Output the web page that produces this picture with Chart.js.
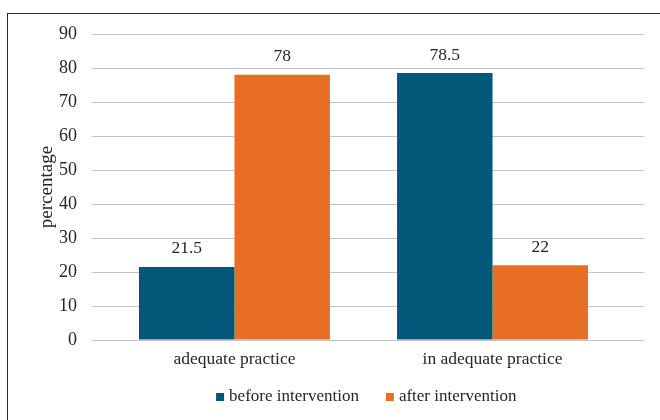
<!DOCTYPE html>
<html>
<head>
<meta charset="utf-8">
<script src="https://cdn.jsdelivr.net/npm/chart.js@4.4.1/dist/chart.umd.min.js"></script>
<style>
  html, body { margin: 0; padding: 0; background: #fff; }
  #wrap { position: relative; width: 660px; height: 420px; overflow: hidden; }
  #frame { position: absolute; left: 7px; top: 13px; width: 720px; height: 480px;
           border-left: 1px solid #2b2b2b; border-top: 1px solid #2b2b2b; box-sizing: border-box; }
  canvas { position: absolute; left: 0; top: 0; }
</style>
</head>
<body>
<div id="wrap">
  <div id="frame"></div>
  <canvas id="chart" width="660" height="420"></canvas>
</div>
<script>
// Practice level before / after the intervention (percent)
const categories = ['adequate practice', 'in adequate practice'];
const seriesNames = ['before intervention', 'after intervention'];
const beforeValues = [21.5, 78.5];
const afterValues = [78, 22];
const yTickValues = [0, 10, 20, 30, 40, 50, 60, 70, 80, 90];
const yTitle = 'percentage';

const blue = '#03587A';
const orange = '#E86D25';
const textColor = '#262626';
const serif = '"Liberation Serif", "Times New Roman", serif';

Chart.defaults.font.family = serif;
Chart.defaults.font.size = 17;
Chart.defaults.color = textColor;

const toPoints = vals => vals.map((v, i) => ({ x: i, y: v }));

// Writes each bar's value just above it
const valueLabels = {
  id: 'valueLabels',
  afterDatasetsDraw(chart) {
    const ctx = chart.ctx;
    ctx.save();
    ctx.font = '17.5px ' + serif;
    ctx.fillStyle = textColor;
    ctx.textAlign = 'center';
    ctx.textBaseline = 'middle';
    chart.data.datasets.forEach((ds, di) => {
      chart.getDatasetMeta(di).data.forEach((bar, i) => {
        ctx.fillText(String(ds.data[i].y), bar.x, bar.y - 18);
      });
    });
    ctx.restore();
  }
};

new Chart(document.getElementById('chart'), {
  type: 'bar',
  data: {
    datasets: [
      { label: seriesNames[0], data: toPoints(beforeValues), backgroundColor: blue },
      { label: seriesNames[1], data: toPoints(afterValues), backgroundColor: orange }
    ]
  },
  options: {
    responsive: false,
    animation: false,
    categoryPercentage: 0.74,
    barPercentage: 1,
    layout: { padding: { left: 0, right: 16, top: 34, bottom: 4.5 } },
    scales: {
      x: {
        type: 'linear',
        offset: false,
        min: -0.552,
        max: 1.587,
        grid: { display: false, drawTicks: false },
        border: { display: false },
        afterBuildTicks(scale) { scale.ticks = categories.map((c, i) => ({ value: i })); },
        ticks: {
          // mirrored so the labels may hang below this short axis box
          mirror: true,
          padding: -30.4,
          autoSkip: false,
          maxRotation: 0,
          font: { size: 17.5 },
          callback: (v) => categories[v]
        },
        afterFit(scale) { scale.height = 18; }
      },
      y: {
        min: 0,
        max: 90,
        afterBuildTicks(scale) { scale.ticks = yTickValues.map(v => ({ value: v })); },
        grid: { color: '#c4c4c4', lineWidth: 1, drawTicks: false },
        border: { display: false },
        ticks: { padding: 15, font: { size: 18 } },
        title: { display: true, text: yTitle, padding: { top: 36, bottom: 0 }, font: { size: 19 } },
        afterFit(scale) { scale.width = 92; }
      }
    },
    plugins: {
      legend: {
        position: 'bottom',
        fullSize: false,
        labels: {
          usePointStyle: true,
          pointStyle: 'rect',
          boxWidth: 1,
          boxHeight: 8,
          padding: 30.5,
          font: { size: 17 }
        }
      },
      tooltip: { enabled: false }
    }
  },
  plugins: [valueLabels]
});
</script>
</body>
</html>
